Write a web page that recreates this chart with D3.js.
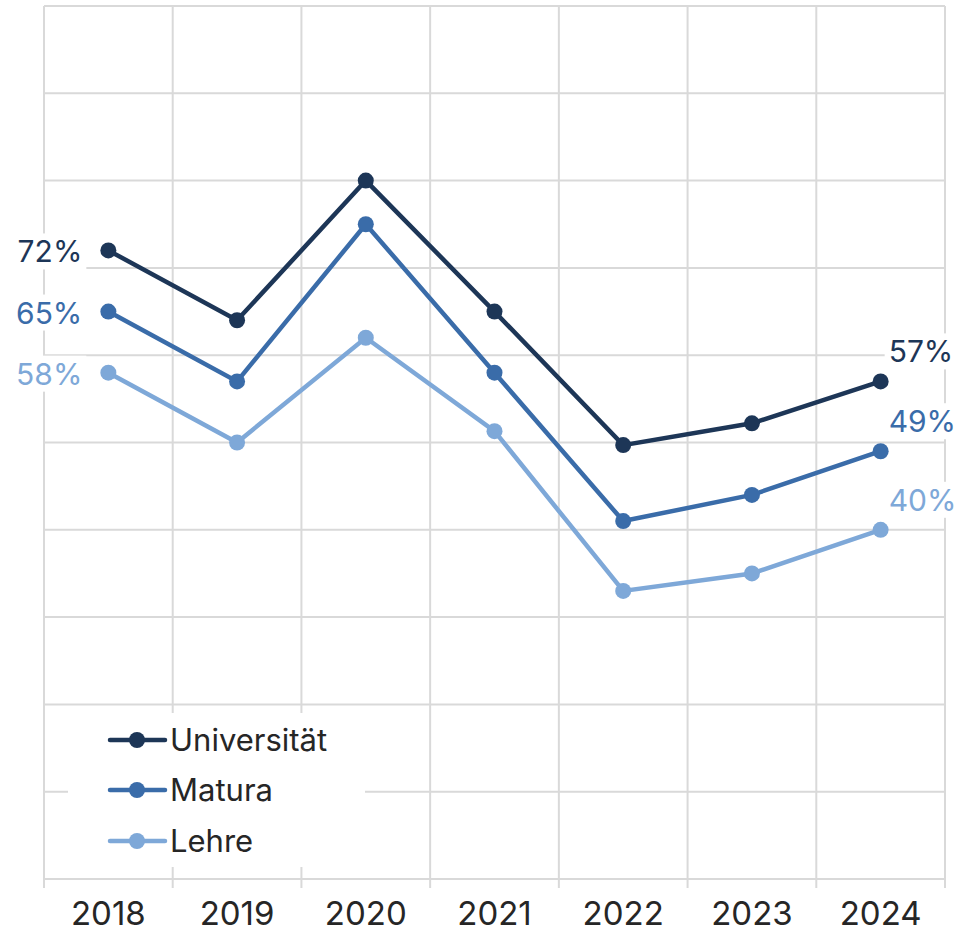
<!DOCTYPE html>
<html>
<head>
<meta charset="utf-8">
<script src="https://cdn.jsdelivr.net/npm/d3@7"></script>
<style>
  body { margin: 0; background: #fff; }
  text { font-family: Inter, "Noto Sans", sans-serif; }
</style>
</head>
<body>
<svg id="chart"></svg>
<script>
// data (percent)
const years = ['2018', '2019', '2020', '2021', '2022', '2023', '2024']
const universitaet = [72, 64, 80, 65, 49.7, 52.2, 57]
const matura = [65, 57, 75, 58, 41, 44, 49]
const lehre = [58, 50, 62, 51.3, 33, 35, 40]
const seriesNames = ['Universität', 'Matura', 'Lehre']
const colors = ['#1d3657', '#3a6ca9', '#7ea8d8']
const yTicks = d3.range(0, 101, 10)

const series = [universitaet, matura, lehre].map((vals, i) => ({
  name: seriesNames[i], color: colors[i],
  values: vals.map((v, j) => ({ year: years[j], v: v }))
}))

const W = 958, H = 932
const svg = d3.select('#chart').attr('width', W).attr('height', H)

const x = d3.scaleBand().domain(years).range([44, 945])
const y = d3.scaleLinear().domain([0, 100]).range([879, 6])
const cx = d => x(d) + x.bandwidth() / 2

const grid = svg.append('g')
// horizontal grid
grid.selectAll('line.h').data(yTicks).join('line')
  .attr('x1', 44).attr('x2', 945)
  .attr('y1', d => y(d)).attr('y2', d => y(d))
  .attr('stroke', '#d9d9d9').attr('stroke-width', 2)
// vertical grid at band edges
const edges = years.map(d => x(d)).concat([x.range()[1]])
grid.selectAll('line.v').data(edges).join('line')
  .attr('x1', d => d).attr('x2', d => d)
  .attr('y1', y(100)).attr('y2', 888)
  .attr('stroke', '#d9d9d9').attr('stroke-width', 2)

// x labels
svg.append('g').selectAll('text').data(years).join('text')
  .attr('x', d => cx(d)).attr('y', 925)
  .attr('text-anchor', 'middle')
  .attr('font-size', 33).attr('fill', '#262626')
  .text(d => d)

// legend box hides grid
const legendY = [740, 790, 841]
svg.append('rect')
  .attr('x', 68).attr('y', 713).attr('width', 297).attr('height', 154)
  .attr('fill', '#fff')

const line = d3.line().x(d => cx(d.year)).y(d => y(d.v))

// data labels (white box behind, like the original)
const labels = svg.append('g')
function addLabel(txt, px, py, anchor, color) {
  const t = labels.append('text')
    .attr('x', px).attr('y', py).attr('text-anchor', anchor)
    .attr('font-size', 30).attr('fill', color).text(txt)
  const b = t.node().getBBox()
  labels.insert('rect', 'text')
    .attr('x', b.x - 4).attr('y', b.y).attr('width', b.width + 8).attr('height', b.height)
    .attr('fill', '#fff')
}

series.forEach(s => {
  const first = s.values[0], last = s.values[s.values.length - 1]
  addLabel(first.v + '%', cx(first.year) - 26, y(first.v) + 12, 'end', s.color)
  addLabel(last.v + '%', cx(last.year) + 8, y(last.v) - 19, 'start', s.color)
})

series.forEach(s => {
  const g = svg.append('g')
  g.append('path').datum(s.values)
    .attr('d', line).attr('fill', 'none')
    .attr('stroke', s.color).attr('stroke-width', 4.5)
  g.selectAll('circle').data(s.values).join('circle')
    .attr('cx', d => cx(d.year)).attr('cy', d => y(d.v))
    .attr('r', 8).attr('fill', s.color)
})

// legend
const leg = svg.append('g')
series.forEach((s, i) => {
  const ly = legendY[i]
  leg.append('line').attr('x1', 110).attr('x2', 165).attr('y1', ly).attr('y2', ly)
    .attr('stroke', s.color).attr('stroke-width', 4.5).attr('stroke-linecap', 'round')
  leg.append('circle').attr('cx', 137).attr('cy', ly).attr('r', 8).attr('fill', s.color)
  leg.append('text').attr('x', 170).attr('y', ly + 11)
    .attr('font-size', 31).attr('fill', '#262626').text(s.name)
})
</script>
</body>
</html>
